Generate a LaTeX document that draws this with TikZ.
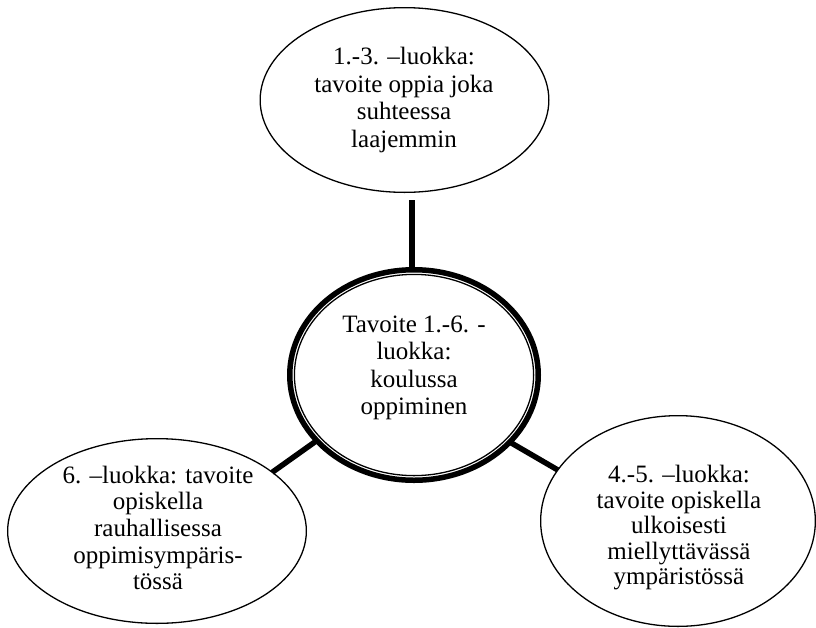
\documentclass[tikz,border=0pt]{standalone}
\usepackage{fontspec}
\setmainfont{Liberation Serif}
\usetikzlibrary{shapes.geometric}
\begin{document}
\begin{tikzpicture}[x=1pt,y=1pt,
  bubble/.style={ellipse, draw, line width=1.3pt, fill=white, inner sep=0pt, outer sep=0pt},
  hub/.style={ellipse, draw, line width=5.5pt, fill=white, inner sep=0pt, outer sep=0pt},
  txt/.style={align=center, inner sep=0pt},
  conn/.style={line width=5.5pt}]
\useasboundingbox (0,0) rectangle (816,-627);
% ellipses
\node[bubble, minimum width=288.7pt, minimum height=184.7pt] (top) at (404.5,-100) {};
\node[hub, minimum width=248.5pt, minimum height=210.5pt] (mid) at (414,-375) {};
\node[bubble, minimum width=298.7pt, minimum height=184.7pt] (left) at (157,-531) {};
\node[bubble, minimum width=274.7pt, minimum height=210.7pt] (right) at (678,-521) {};
\draw[line width=1.3pt] (mid.center) ellipse [x radius=119.6, y radius=100.6];
% connectors
\coordinate (tend) at (412,-200);
\draw[conn] (tend) -- (tend |- mid.north);
\draw[conn] (mid.214.5) -- (left.27);
\draw[conn] (mid.325.8) -- (right.157);
% texts
\node[txt, font=\fontsize{25}{27.7}\selectfont] (toptext) at (404,-100)
  {1.-3. –luokka:\\tavoite oppia joka\\suhteessa\\laajemmin};
\node[txt, font=\fontsize{25}{27.3}\selectfont] (midtext) at (414,-368)
  {Tavoite 1.-6. -\\luokka:\\koulussa\\oppiminen};
\node[txt, font=\fontsize{25}{26.7}\selectfont] (lefttext) at (158,-528)
  {6. –luokka: tavoite\\opiskella\\rauhallisessa\\oppimisympäris-\\tössä};
\node[txt, font=\fontsize{25}{25.5}\selectfont] (righttext) at (679,-528)
  {4.-5. –luokka:\\tavoite opiskella\\ulkoisesti\\miellyttävässä\\ympäristössä};
\end{tikzpicture}
\end{document}
